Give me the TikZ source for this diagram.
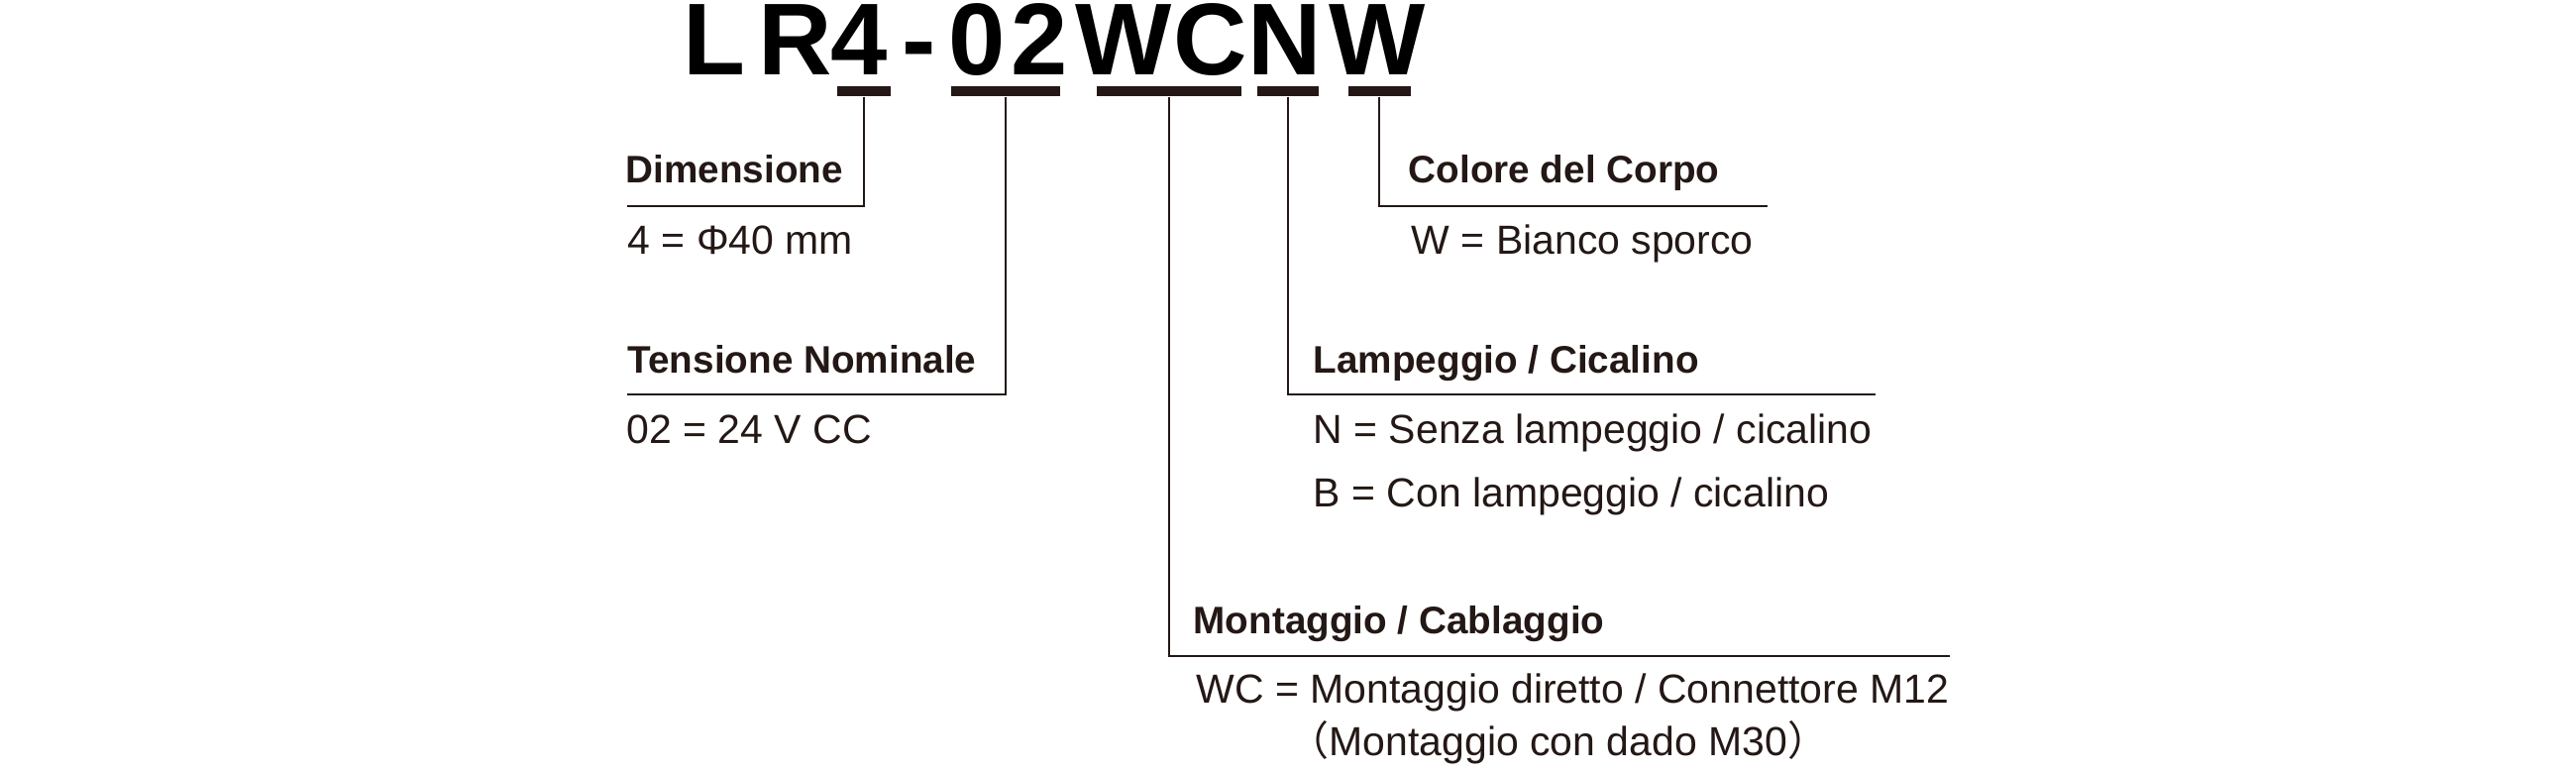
\documentclass[tikz,border=0pt]{standalone}
\usepackage{fontspec}
\setmainfont{Liberation Sans}
\newfontfamily\cjk{Noto Sans CJK JP}
\definecolor{ink}{RGB}{35,24,21}
\tikzstyle{code}=[anchor=base,inner sep=0pt,text=black,
              font=\fontsize{29.3pt}{31pt}\bfseries]
\tikzstyle{bar}=[rectangle,fill=ink,inner sep=0pt,minimum height=.1cm]
\tikzstyle{head}=[anchor=base west,inner sep=0pt,text=ink,
              font=\fontsize{11pt}{13pt}\bfseries]
\tikzstyle{item}=[anchor=base west,inner sep=0pt,text=ink,
              font=\fontsize{11.65pt}{14pt}\selectfont]
\tikzstyle{line}=[draw=ink,line width=.6pt]
\begin{document}
\begin{tikzpicture}[x=.01cm,y=-.01cm]
	\useasboundingbox (0,0) rectangle (2600,780);
	% model code
	\foreach \c/\x [count=\i] in {L/721,R/803,4/867,-/928,0/986,2/1049,W/1134,C/1222,N/1297,W/1390}
		\node[code] (c\i) at (\x,76) {\c};

	\node[bar,minimum width=.53cm] (b4) at (872,92) {};
	\node[bar,minimum width=1.1cm] (b02) at (1015,92) {};
	\node[bar,minimum width=1.46cm] (bwc) at (1180,92) {};
	\node[bar,minimum width=.62cm] (bn) at (1300,92) {};
	\node[bar,minimum width=.63cm] (bw) at (1392,92) {};

	\coordinate (r4) at (633,208);
	\coordinate (r02) at (633,398);
	\coordinate (rw) at (1784,208);
	\coordinate (rn) at (1893,398);
	\coordinate (rwc) at (1968,662);

	\draw[line] (b4.south) |- (r4);
	\draw[line] (b02.south) |- (r02);
	\draw[line] (bw.south) |- (rw);
	\draw[line] (bn.south) |- (rn);
	\draw[line] (bwc.south) |- (rwc);

	% fields
	\node[head] (dim) at (631,185) {Dimensione};
	\node[item] (dim4) at (633,257) {4 = Φ40 mm};
	\node[head] (ten) at (633,377) {Tensione Nominale};
	\node[item] (ten02) at (632,448) {02 = 24 V CC};
	\node[head] (col) at (1421,185) {Colore del Corpo};
	\node[item] (colw) at (1424,257) {W = Bianco sporco};
	\node[head] (lam) at (1325,377) {Lampeggio / Cicalino};
	\node[item] (lamn) at (1325,448) {N = Senza lampeggio / cicalino};
	\node[item] (lamb) at (1325,512) {B = Con lampeggio / cicalino};
	\node[head] (mon) at (1204,640) {Montaggio / Cablaggio};
	\node[item] (monwc) at (1207,710) {WC = Montaggio diretto / Connettore M12};
	\node[item] (monwc2) at (1300,763) {{\cjk （}Montaggio con dado M30{\cjk ）}};
\end{tikzpicture}
\end{document}
